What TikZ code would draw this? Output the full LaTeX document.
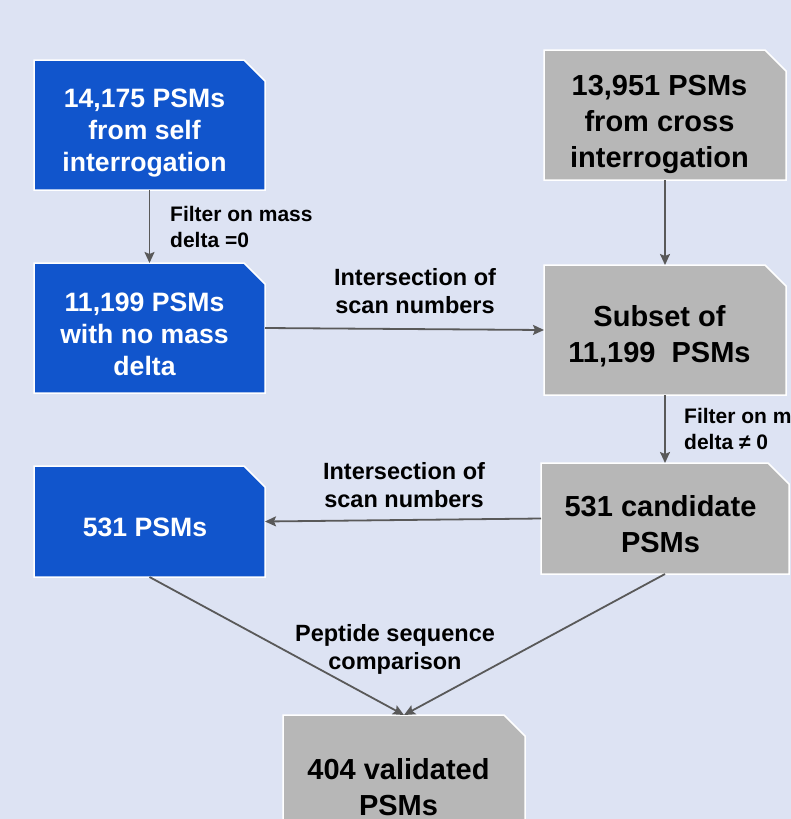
\documentclass[tikz,border=0pt]{standalone}
\usepackage{fontspec}
\setmainfont{Liberation Sans}
\usetikzlibrary{arrows.meta,backgrounds}
\definecolor{bgblue}{RGB}{221,227,243}
\definecolor{selfblue}{RGB}{17,85,204}
\definecolor{crossgray}{RGB}{183,183,183}
\definecolor{arrgray}{RGB}{89,89,89}
\begin{document}
\begin{tikzpicture}[x=1pt,y=-1pt,
  box/.style={rectangle,draw=none,inner sep=0pt,outer sep=0pt},
  selftxt/.style={align=center,text=white,inner sep=0pt,font=\bfseries\fontsize{26.6}{32}\selectfont},
  crosstxt/.style={align=center,text=black,inner sep=0pt,font=\bfseries\fontsize{29}{36}\selectfont},
  lbl/.style={align=center,inner sep=0pt,font=\bfseries\fontsize{23.5}{28}\selectfont},
  lblsmall/.style={align=left,anchor=west,inner sep=0pt,font=\bfseries\fontsize{21}{26}\selectfont},
  arr/.style={-{Stealth[length=11pt,width=10pt,inset=2pt]},draw=arrgray,line width=1.8pt}]
\useasboundingbox (0,0) rectangle (791,819);
% self interrogation (left)
\node[box,minimum width=231pt,minimum height=130pt] (a) at (149.5,125) {};
\node[selftxt] (a-t) at (144.5,133.5) {14,175 PSMs\\from self\\interrogation};
\node[box,minimum width=231pt,minimum height=130pt] (c) at (149.5,328) {};
\node[selftxt] (c-t) at (144.5,334) {11,199 PSMs\\with no mass\\delta};
\node[box,minimum width=231pt,minimum height=111pt] (e) at (149.5,521.5) {};
\node[selftxt] (e-t) at (145,527) {531 PSMs};
% cross interrogation (right)
\node[box,minimum width=242pt,minimum height=130pt] (b) at (665,115) {};
\node[crosstxt] (b-t) at (659.5,124) {13,951 PSMs\\from cross\\interrogation};
\node[box,minimum width=242pt,minimum height=130pt] (d) at (665,330) {};
\node[crosstxt] (d-t) at (659.5,336) {Subset of\\11,199\ \ PSMs};
\node[box,minimum width=248pt,minimum height=111pt] (f) at (665,518.5) {};
\node[crosstxt] (f-t) at (660.5,524) {531 candidate\\PSMs};
% result
\node[box,minimum width=242pt,minimum height=130pt] (g) at (404,780) {};
\node[crosstxt] (g-t) at (398.5,787) {404 validated\\PSMs};
% box outlines with the cut corner
\begin{scope}[on background layer]
\fill[bgblue] (0,0) rectangle (791,819);
\foreach \n/\c in {a/selfblue,c/selfblue,e/selfblue,b/crossgray,d/crossgray,f/crossgray,g/crossgray}
  \draw[white,line width=1.5pt,fill=\c] (\n.south west) -- (\n.north west) -- ([xshift=-21pt]\n.north east)
    -- ([yshift=-21pt]\n.north east) -- (\n.south east) -- cycle;
\end{scope}
% connectors
\draw[arr] (a) -- (c);
\draw[arr] (b) -- (d);
\draw[arr] (c.east) -- (d.west);
\draw[arr] (d) -- (f);
\draw[arr] (f.west) -- (e.east);
\draw[arr] (e.south) -- (g.north);
\draw[arr] (f.south) -- (g.north);
% labels
\node[lblsmall] (l-ac) at (170,227) {Filter on mass\\delta =0};
\node[lbl] (l-cd) at (415,291) {Intersection of\\scan numbers};
\node[lblsmall] (l-df) at (684,428.5) {Filter on mass\\delta ≠ 0};
\node[lbl] (l-fe) at (404,485.5) {Intersection of\\scan numbers};
\node[lbl] (l-eg) at (395,649) {Peptide sequence\\comparison};
\end{tikzpicture}
\end{document}
